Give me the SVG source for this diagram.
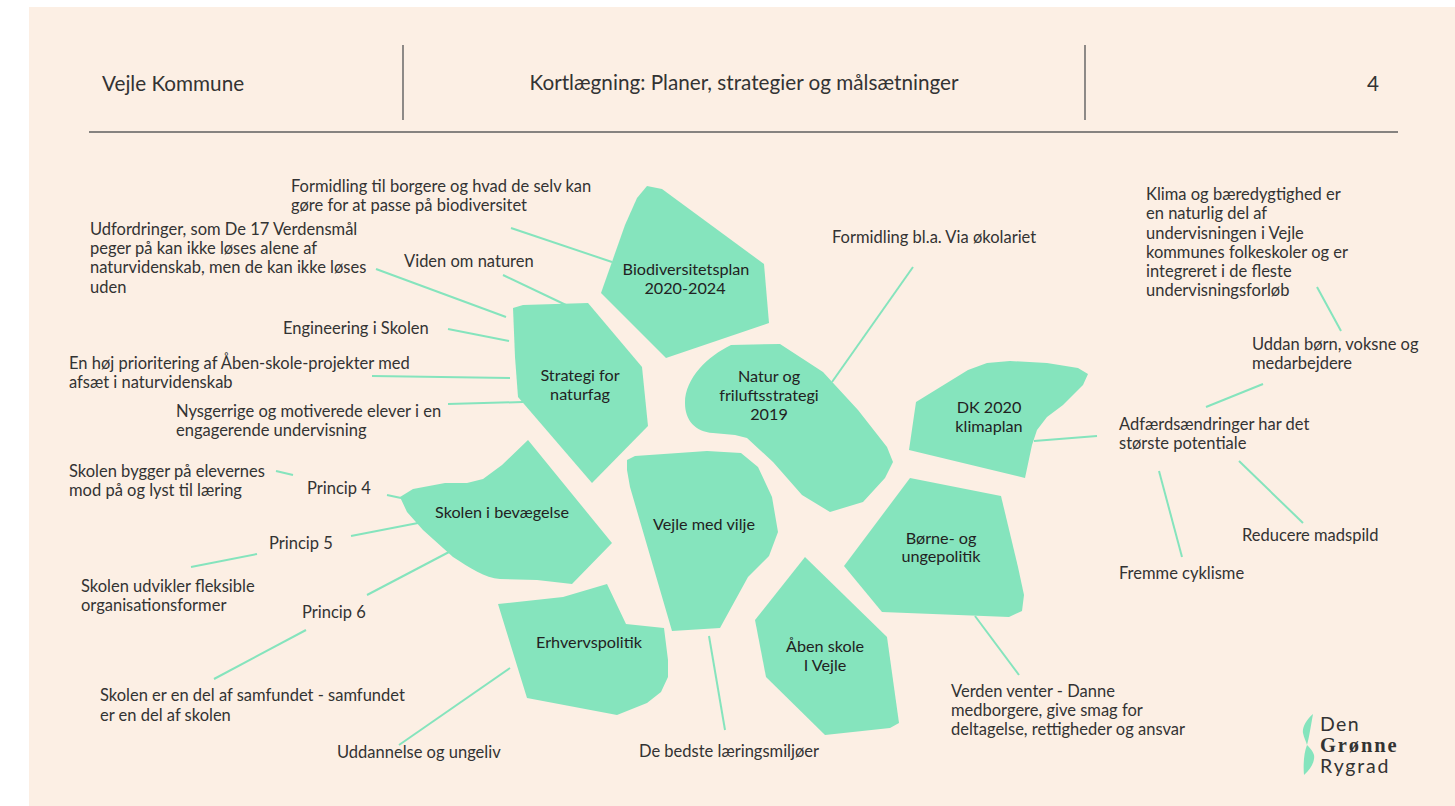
<svg xmlns="http://www.w3.org/2000/svg" width="1455" height="806" viewBox="0 0 1455 806">
<style>
text{font-family:"Lato","Liberation Sans",sans-serif;fill:#333}
.t{font-size:16.5px}
.n{font-size:16.2px;text-anchor:middle;fill:#222}
.h{font-size:20.7px}
.b{fill:#85e4bd}
.c line{stroke:#85e4bd;stroke-width:2}
.r line{stroke:#5f5f5f;stroke-width:1.4}
</style>
<rect width="1455" height="806" fill="#fff"/>
<rect x="29" y="7" width="1426" height="799" fill="#fcefe4"/>
<g class="r"><line x1="403" y1="45" x2="403" y2="120"/><line x1="1085" y1="45" x2="1085" y2="120"/><line x1="89" y1="132" x2="1398" y2="132"/></g>
<text class="h" x="102" y="91">Vejle Kommune</text>
<text class="h" x="744" y="90" text-anchor="middle">Kortlægning: Planer, strategier og målsætninger</text>
<text class="h" x="1367" y="91">4</text>
<g class="c">
<line x1="511" y1="228" x2="612" y2="262"/>
<line x1="503" y1="275" x2="566" y2="305"/>
<line x1="376" y1="269" x2="506" y2="317"/>
<line x1="448" y1="329" x2="509" y2="341"/>
<line x1="372" y1="376" x2="510" y2="378"/>
<line x1="448" y1="404" x2="523" y2="402"/>
<line x1="913" y1="267" x2="832" y2="382"/>
<line x1="1034" y1="441" x2="1097" y2="436"/>
<line x1="1206" y1="407" x2="1263" y2="384"/>
<line x1="1317" y1="287" x2="1341" y2="331"/>
<line x1="1239" y1="461" x2="1303" y2="523"/>
<line x1="1159" y1="471" x2="1182" y2="557"/>
<line x1="975" y1="616" x2="1019" y2="675"/>
<line x1="709" y1="636" x2="725" y2="730"/>
<line x1="510" y1="668" x2="399" y2="745"/>
<line x1="276" y1="471" x2="293" y2="475"/>
<line x1="387" y1="495" x2="401" y2="498"/>
<line x1="351" y1="536" x2="418" y2="523"/>
<line x1="191" y1="567" x2="257" y2="554"/>
<line x1="367" y1="595" x2="449" y2="552"/>
<line x1="214" y1="679" x2="306" y2="630"/>
</g>
<g id="n-biodiversitet"><polygon class="b" points="647,186 662,189 764,264 769,323 666,358 601,293 625,225 637,198"/><text class="n" x="686" y="275">Biodiversitetsplan</text><text class="n" x="685" y="294">2020-2024</text></g>
<g id="n-strategi"><polygon class="b" points="513,308 523,305 588,303 642,367 648,426 592,483 518,397 515,357"/><text class="n" x="580" y="381">Strategi for</text><text class="n" x="580" y="400">naturfag</text></g>
<g id="n-natur"><path class="b" d="M731,345 L780,344 L823,372 L858,410 L887,447 L893,462 L885,478 L863,502 L830,512 L802,495 L773,462 L747,438 L735,435 L713,433 C695,432 685,420 685,403 C685,378 708,356 731,345Z"/><text class="n" x="769" y="382">Natur og</text><text class="n" x="769" y="401">friluftsstrategi</text><text class="n" x="769" y="420">2019</text></g>
<g id="n-skolen"><path class="b" d="M528,440 L612,543 L572,584 L537,580 L500,579 C485,578 470,568 453,557 L423,530 L407,512 L400,497 L413,489 L445,483 L467,483 L483,479 L502,465Z"/><text class="n" x="502" y="518">Skolen i bevægelse</text></g>
<g id="n-vejle"><polygon class="b" points="627,460 635,456 707,451 741,453 758,467 772,497 778,532 769,556 748,577 720,628 672,631 630,487 627,470"/><text class="n" x="704" y="530">Vejle med vilje</text></g>
<g id="n-erhverv"><polygon class="b" points="498,604 563,597 607,584 626,624 664,628 668,660 668,677 661,692 647,703 617,715 527,698"/><text class="n" x="589" y="648">Erhvervspolitik</text></g>
<g id="n-aaben"><polygon class="b" points="805,557 887,637 899,723 890,728 825,735 766,677 755,620"/><text class="n" x="825" y="652">Åben skole</text><text class="n" x="825" y="671">I Vejle</text></g>
<g id="n-dk"><polygon class="b" points="916,402 968,370 987,363 1010,361 1047,363 1078,368 1088,374 1083,385 1063,405 1047,417 1037,430 1032,445 1025,478 909,450"/><text class="n" x="989" y="413">DK 2020</text><text class="n" x="989" y="432">klimaplan</text></g>
<g id="n-borne"><polygon class="b" points="910,478 1001,496 1018,567 1024,595 1022,611 1009,617 882,612 844,566"/><text class="n" x="941" y="544">Børne- og</text><text class="n" x="941" y="562">ungepolitik</text></g>
<g id="labels" transform="translate(0,0.8)">
<text class="t" x="291" y="191">Formidling til borgere og hvad de selv kan</text><text class="t" x="291" y="210">gøre for at passe på biodiversitet</text>
<text class="t" x="90" y="234">Udfordringer, som De 17 Verdensmål</text><text class="t" x="90" y="253">peger på kan ikke løses alene af</text><text class="t" x="90" y="272">naturvidenskab, men de kan ikke løses</text><text class="t" x="90" y="292">uden</text>
<text class="t" x="404" y="266">Viden om naturen</text>
<text class="t" x="283" y="333">Engineering i Skolen</text>
<text class="t" x="69" y="368">En høj prioritering af Åben-skole-projekter med</text><text class="t" x="69" y="387">afsæt i naturvidenskab</text>
<text class="t" x="176" y="416">Nysgerrige og motiverede elever i en</text><text class="t" x="176" y="435">engagerende undervisning</text>
<text class="t" x="69" y="476">Skolen bygger på elevernes</text><text class="t" x="69" y="495">mod på og lyst til læring</text>
<text class="t" x="307" y="493">Princip 4</text><text class="t" x="269" y="548">Princip 5</text><text class="t" x="302" y="617">Princip 6</text>
<text class="t" x="81" y="591">Skolen udvikler fleksible</text><text class="t" x="81" y="610">organisationsformer</text>
<text class="t" x="100" y="700">Skolen er en del af samfundet - samfundet</text><text class="t" x="100" y="720">er en del af skolen</text>
<text class="t" x="337" y="757">Uddannelse og ungeliv</text>
<text class="t" x="639" y="756">De bedste læringsmiljøer</text>
<text class="t" x="951" y="696">Verden venter - Danne</text><text class="t" x="951" y="715">medborgere, give smag for</text><text class="t" x="951" y="734">deltagelse, rettigheder og ansvar</text>
<text class="t" x="832" y="242">Formidling bl.a. Via økolariet</text>
<text class="t" x="1146" y="199">Klima og bæredygtighed er</text><text class="t" x="1146" y="218">en naturlig del af</text><text class="t" x="1146" y="238">undervisningen i Vejle</text><text class="t" x="1146" y="257">kommunes folkeskoler og er</text><text class="t" x="1146" y="276">integreret i de fleste</text><text class="t" x="1146" y="295">undervisningsforløb</text>
<text class="t" x="1252" y="349">Uddan børn, voksne og</text><text class="t" x="1252" y="368">medarbejdere</text>
<text class="t" x="1119" y="429">Adfærdsændringer har det</text><text class="t" x="1119" y="448">største potentiale</text>
<text class="t" x="1242" y="540">Reducere madspild</text>
<text class="t" x="1119" y="578">Fremme cyklisme</text>
</g>
<g id="logo">
<path class="b" d="M1313,714 C1306,720 1302,728 1303,733 C1304,738 1306,741 1307,745 C1304,752 1303,765 1304,775 C1312,768 1315,760 1314,755 C1313,751 1309,747 1307,745 C1309,738 1311,725 1313,714Z"/>
<text x="1320" y="731" font-size="19.5" letter-spacing="1.4">Den</text>
<text x="1320" y="752" font-weight="700" letter-spacing="1.9" style="font-family:'Liberation Serif',serif;font-size:20.5px">Grønne</text>
<text x="1320" y="773" font-size="19.5" letter-spacing="1.8">Rygrad</text>
</g>
</svg>
